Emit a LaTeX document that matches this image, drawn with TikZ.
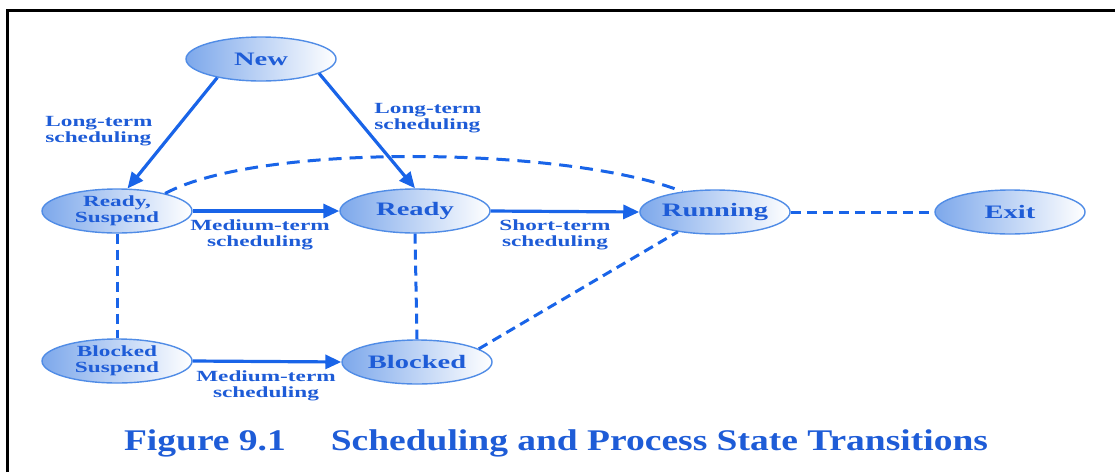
\documentclass[tikz,border=0pt]{standalone}
\usepackage{fontspec}
\setmainfont{Liberation Serif}
\newfontfamily\wfont[FakeStretch=1.5]{Liberation Serif}
\newfontfamily\capfont[FakeStretch=1.25]{Liberation Serif}
\usetikzlibrary{shapes.geometric,arrows.meta}
\definecolor{lineblue}{RGB}{25,100,232}
\definecolor{textblue}{RGB}{30,92,215}
\definecolor{edgeblue}{RGB}{80,140,230}
\definecolor{fillblue}{RGB}{125,168,235}
\begin{document}
\begin{tikzpicture}[x=1pt,y=-1pt,
  state/.style={ellipse,draw=edgeblue,line width=1.4pt,left color=fillblue,right color=white,
    minimum width=150pt,minimum height=44pt,inner xsep=0pt,inner ysep=-4pt,
    text=textblue,font=\wfont\bfseries\fontsize{19}{19}\selectfont,align=center},
  smallstate/.style={state,font=\wfont\bfseries\fontsize{15.5}{16.5}\selectfont},
  lbl/.style={text=textblue,font=\wfont\bfseries\fontsize{15.5}{16.5}\selectfont,inner sep=0pt},
  solidarr/.style={draw=lineblue,line width=3.2pt,-{Triangle[length=16pt,width=14pt]}},
  dashline/.style={draw=lineblue,line width=3pt,dash pattern=on 10pt off 6pt}]
\useasboundingbox (0,0) rectangle (1115,472);
\draw[line width=3pt,black] (7,472) -- (7,10) -- (1115,10);
% states
\node[state] (new) at (261,59) {New};
\node[smallstate] (rs) at (117,211) {Ready,\\Suspend};
\node[state] (ready) at (415,211) {Ready};
\node[state] (run) at (715,212) {Running};
\node[state] (exit) at (1010,212) {Exit};
\node[smallstate] (bs) at (117,361) {Blocked\\Suspend};
\node[state] (bl) at (417,362) {Blocked};
% connectors
\draw[solidarr] (new.-157) -- (rs.65);
\draw[solidarr] (new.-14) -- (ready.north);
\draw[solidarr] (rs.east) -- (ready.west);
\draw[solidarr] (ready.east) -- (run.west);
\draw[solidarr] (bs.east) -- (bl.west);
\draw[dashline] (run.east) -- (exit.west);
\draw[dashline] (rs.south) -- (bs.north);
\draw[dashline] (ready.south) -- (bl.north);
\draw[dashline] (bl.12) -- (run.208);
\draw[dashline,dash pattern=on 13pt off 8pt] (rs.20) .. controls (260,142) and (570,147) .. (run.148);
% labels
\node[lbl,align=left] (l1) at (99,131) {Long-term\\scheduling};
\node[lbl,align=left] (l2) at (428,118) {Long-term\\scheduling};
\node[lbl,align=center] (l3) at (260,235) {Medium-term\\scheduling};
\node[lbl,align=center] (l4) at (555,235) {Short-term\\scheduling};
\node[lbl,align=center] (l5) at (266,386) {Medium-term\\scheduling};
\node[text=textblue,font=\capfont\bfseries\fontsize{30}{30}\selectfont,inner sep=0pt] (cap) at (556,443)
  {Figure 9.1\hspace{1.5em}Scheduling and Process State Transitions};
\end{tikzpicture}
\end{document}
